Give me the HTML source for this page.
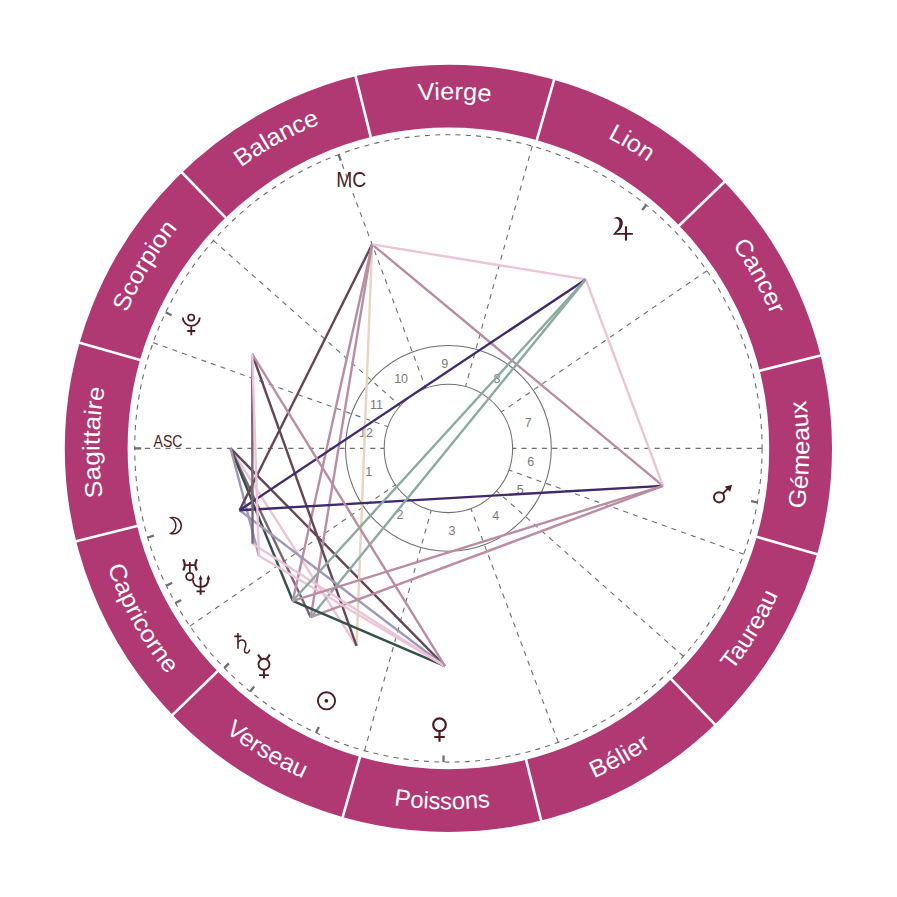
<!DOCTYPE html>
<html><head><meta charset="utf-8"><style>html,body{margin:0;padding:0;background:#fff;}svg{display:block}</style></head>
<body><svg width="897" height="897" viewBox="0 0 897 897">
<rect width="897" height="897" fill="#fff"/>
<circle cx="448.4" cy="448.4" r="352.20" fill="none" stroke="#b03873" stroke-width="62.80"/>
<line x1="525.77" y1="758.70" x2="541.44" y2="821.58" stroke="#fff" stroke-width="2.6"/>
<line x1="670.55" y1="678.44" x2="715.57" y2="725.06" stroke="#fff" stroke-width="2.6"/>
<line x1="755.81" y1="536.55" x2="818.10" y2="554.41" stroke="#fff" stroke-width="2.6"/>
<line x1="758.70" y1="371.03" x2="821.58" y2="355.36" stroke="#fff" stroke-width="2.6"/>
<line x1="678.44" y1="226.25" x2="725.06" y2="181.23" stroke="#fff" stroke-width="2.6"/>
<line x1="536.55" y1="140.99" x2="554.41" y2="78.70" stroke="#fff" stroke-width="2.6"/>
<line x1="371.03" y1="138.10" x2="355.36" y2="75.22" stroke="#fff" stroke-width="2.6"/>
<line x1="226.25" y1="218.36" x2="181.23" y2="171.74" stroke="#fff" stroke-width="2.6"/>
<line x1="140.99" y1="360.25" x2="78.70" y2="342.39" stroke="#fff" stroke-width="2.6"/>
<line x1="138.10" y1="525.77" x2="75.22" y2="541.44" stroke="#fff" stroke-width="2.6"/>
<line x1="218.36" y1="670.55" x2="171.74" y2="715.57" stroke="#fff" stroke-width="2.6"/>
<line x1="360.25" y1="755.81" x2="342.39" y2="818.10" stroke="#fff" stroke-width="2.6"/>
<defs><path id="arc0" d="M379.56,802.57 A360.8,360.8 0 0 0 785.24,577.70"/><path id="arc1" d="M565.86,789.54 A360.8,360.8 0 0 0 804.76,391.96"/><path id="arc2" d="M720.70,685.11 A360.8,360.8 0 0 0 728.79,221.34"/><path id="arc3" d="M573.47,122.58 A349.0,349.0 0 0 1 790.99,514.99"/><path id="arc4" d="M393.80,103.70 A349.0,349.0 0 0 1 778.39,334.78"/><path id="arc5" d="M228.77,177.18 A349.0,349.0 0 0 1 677.36,185.01"/><path id="arc6" d="M122.58,323.33 A349.0,349.0 0 0 1 514.99,105.81"/><path id="arc7" d="M103.70,503.00 A349.0,349.0 0 0 1 334.78,118.41"/><path id="arc8" d="M177.18,668.03 A349.0,349.0 0 0 1 185.01,219.44"/><path id="arc9" d="M94.23,379.56 A360.8,360.8 0 0 0 319.10,785.24"/><path id="arc10" d="M107.26,565.86 A360.8,360.8 0 0 0 504.84,804.76"/><path id="arc11" d="M211.69,720.70 A360.8,360.8 0 0 0 675.46,728.79"/></defs>
<text font-family="Liberation Sans, sans-serif" font-size="24" fill="#fff"><textPath href="#arc0" startOffset="50%" text-anchor="middle" textLength="65.5" lengthAdjust="spacingAndGlyphs">Bélier</textPath></text>
<text font-family="Liberation Sans, sans-serif" font-size="24" fill="#fff"><textPath href="#arc1" startOffset="50%" text-anchor="middle" textLength="89.5" lengthAdjust="spacingAndGlyphs">Taureau</textPath></text>
<text font-family="Liberation Sans, sans-serif" font-size="24" fill="#fff"><textPath href="#arc2" startOffset="50%" text-anchor="middle" textLength="109.4" lengthAdjust="spacingAndGlyphs">Gémeaux</textPath></text>
<text font-family="Liberation Sans, sans-serif" font-size="24" fill="#fff"><textPath href="#arc3" startOffset="50%" text-anchor="middle" textLength="79.9" lengthAdjust="spacingAndGlyphs">Cancer</textPath></text>
<text font-family="Liberation Sans, sans-serif" font-size="24" fill="#fff"><textPath href="#arc4" startOffset="50%" text-anchor="middle" textLength="47.2" lengthAdjust="spacingAndGlyphs">Lion</textPath></text>
<text font-family="Liberation Sans, sans-serif" font-size="24" fill="#fff"><textPath href="#arc5" startOffset="50%" text-anchor="middle" textLength="72.6" lengthAdjust="spacingAndGlyphs">Vierge</textPath></text>
<text font-family="Liberation Sans, sans-serif" font-size="24" fill="#fff"><textPath href="#arc6" startOffset="50%" text-anchor="middle" textLength="90.5" lengthAdjust="spacingAndGlyphs">Balance</textPath></text>
<text font-family="Liberation Sans, sans-serif" font-size="24" fill="#fff"><textPath href="#arc7" startOffset="50%" text-anchor="middle" textLength="99.1" lengthAdjust="spacingAndGlyphs">Scorpion</textPath></text>
<text font-family="Liberation Sans, sans-serif" font-size="24" fill="#fff"><textPath href="#arc8" startOffset="50%" text-anchor="middle" textLength="109.9" lengthAdjust="spacingAndGlyphs">Sagittaire</textPath></text>
<text font-family="Liberation Sans, sans-serif" font-size="24" fill="#fff"><textPath href="#arc9" startOffset="50%" text-anchor="middle" textLength="123.5" lengthAdjust="spacingAndGlyphs">Capricorne</textPath></text>
<text font-family="Liberation Sans, sans-serif" font-size="24" fill="#fff"><textPath href="#arc10" startOffset="50%" text-anchor="middle" textLength="91.2" lengthAdjust="spacingAndGlyphs">Verseau</textPath></text>
<text font-family="Liberation Sans, sans-serif" font-size="24" fill="#fff"><textPath href="#arc11" startOffset="50%" text-anchor="middle" textLength="96.8" lengthAdjust="spacingAndGlyphs">Poissons</textPath></text>
<circle cx="448.4" cy="448.4" r="313.7" fill="none" stroke="#6e6e6e" stroke-width="1.1" stroke-dasharray="5.12 5.12"/>
<circle cx="448.4" cy="448.4" r="64.2" fill="none" stroke="#707070" stroke-width="1.05"/>
<circle cx="448.4" cy="448.4" r="102.9" fill="none" stroke="#707070" stroke-width="1.05"/>
<line x1="134.70" y1="448.40" x2="384.20" y2="448.40" stroke="#6e6e6e" stroke-width="1.1" stroke-dasharray="5.12 5.12"/>
<line x1="189.87" y1="626.08" x2="395.49" y2="484.76" stroke="#6e6e6e" stroke-width="1.1" stroke-dasharray="5.12 5.12"/>
<line x1="364.57" y1="750.69" x2="431.24" y2="510.27" stroke="#6e6e6e" stroke-width="1.1" stroke-dasharray="5.12 5.12"/>
<line x1="558.26" y1="742.23" x2="470.88" y2="508.53" stroke="#6e6e6e" stroke-width="1.1" stroke-dasharray="5.12 5.12"/>
<line x1="683.35" y1="656.26" x2="496.48" y2="490.94" stroke="#6e6e6e" stroke-width="1.1" stroke-dasharray="5.12 5.12"/>
<line x1="743.74" y1="554.15" x2="508.84" y2="470.04" stroke="#6e6e6e" stroke-width="1.1" stroke-dasharray="5.12 5.12"/>
<line x1="762.10" y1="448.40" x2="512.60" y2="448.40" stroke="#6e6e6e" stroke-width="1.1" stroke-dasharray="5.12 5.12"/>
<line x1="706.93" y1="270.72" x2="501.31" y2="412.04" stroke="#6e6e6e" stroke-width="1.1" stroke-dasharray="5.12 5.12"/>
<line x1="532.23" y1="146.11" x2="465.56" y2="386.53" stroke="#6e6e6e" stroke-width="1.1" stroke-dasharray="5.12 5.12"/>
<line x1="338.54" y1="154.57" x2="425.92" y2="388.27" stroke="#6e6e6e" stroke-width="1.1" stroke-dasharray="5.12 5.12"/>
<line x1="213.45" y1="240.54" x2="400.32" y2="405.86" stroke="#6e6e6e" stroke-width="1.1" stroke-dasharray="5.12 5.12"/>
<line x1="153.06" y1="342.65" x2="387.96" y2="426.76" stroke="#6e6e6e" stroke-width="1.1" stroke-dasharray="5.12 5.12"/>
<text x="368.66" y="472.16" font-family="Liberation Sans, sans-serif" font-size="12.5" fill="#7a7a7a" text-anchor="middle" dominant-baseline="central">1</text>
<text x="399.91" y="515.38" font-family="Liberation Sans, sans-serif" font-size="12.5" fill="#7a7a7a" text-anchor="middle" dominant-baseline="central">2</text>
<text x="452.04" y="530.82" font-family="Liberation Sans, sans-serif" font-size="12.5" fill="#7a7a7a" text-anchor="middle" dominant-baseline="central">3</text>
<text x="495.69" y="516.21" font-family="Liberation Sans, sans-serif" font-size="12.5" fill="#7a7a7a" text-anchor="middle" dominant-baseline="central">4</text>
<text x="520.27" y="489.90" font-family="Liberation Sans, sans-serif" font-size="12.5" fill="#7a7a7a" text-anchor="middle" dominant-baseline="central">5</text>
<text x="530.67" y="461.68" font-family="Liberation Sans, sans-serif" font-size="12.5" fill="#7a7a7a" text-anchor="middle" dominant-baseline="central">6</text>
<text x="528.14" y="422.64" font-family="Liberation Sans, sans-serif" font-size="12.5" fill="#7a7a7a" text-anchor="middle" dominant-baseline="central">7</text>
<text x="496.89" y="379.42" font-family="Liberation Sans, sans-serif" font-size="12.5" fill="#7a7a7a" text-anchor="middle" dominant-baseline="central">8</text>
<text x="444.76" y="363.98" font-family="Liberation Sans, sans-serif" font-size="12.5" fill="#7a7a7a" text-anchor="middle" dominant-baseline="central">9</text>
<text x="401.11" y="378.59" font-family="Liberation Sans, sans-serif" font-size="12.5" fill="#7a7a7a" text-anchor="middle" dominant-baseline="central">10</text>
<text x="376.53" y="404.90" font-family="Liberation Sans, sans-serif" font-size="12.5" fill="#7a7a7a" text-anchor="middle" dominant-baseline="central">11</text>
<text x="366.13" y="433.12" font-family="Liberation Sans, sans-serif" font-size="12.5" fill="#7a7a7a" text-anchor="middle" dominant-baseline="central">12</text>
<line x1="141.20" y1="448.40" x2="134.70" y2="448.40" stroke="#6e6e6e" stroke-width="2.3"/>
<line x1="340.82" y1="160.65" x2="338.54" y2="154.57" stroke="#6e6e6e" stroke-width="2.3"/>
<line x1="153.85" y1="535.65" x2="147.62" y2="537.50" stroke="#6e6e6e" stroke-width="2.3"/>
<line x1="172.17" y1="582.83" x2="166.33" y2="585.67" stroke="#6e6e6e" stroke-width="2.3"/>
<line x1="181.16" y1="599.91" x2="175.50" y2="603.11" stroke="#6e6e6e" stroke-width="2.3"/>
<line x1="228.91" y1="663.34" x2="224.27" y2="667.88" stroke="#6e6e6e" stroke-width="2.3"/>
<line x1="254.24" y1="686.46" x2="250.13" y2="691.50" stroke="#6e6e6e" stroke-width="2.3"/>
<line x1="318.81" y1="726.93" x2="316.07" y2="732.82" stroke="#6e6e6e" stroke-width="2.3"/>
<line x1="443.57" y1="755.56" x2="443.47" y2="762.06" stroke="#6e6e6e" stroke-width="2.3"/>
<line x1="751.03" y1="501.22" x2="757.43" y2="502.33" stroke="#6e6e6e" stroke-width="2.3"/>
<line x1="642.14" y1="210.00" x2="646.24" y2="204.95" stroke="#6e6e6e" stroke-width="2.3"/>
<line x1="171.59" y1="315.18" x2="165.73" y2="312.36" stroke="#6e6e6e" stroke-width="2.3"/>
<line x1="230.60" y1="448.40" x2="356.53" y2="645.87" stroke="#ebc4d6" stroke-width="2.4"/>
<line x1="230.60" y1="448.40" x2="310.74" y2="617.18" stroke="#7a6473" stroke-width="2.4"/>
<line x1="230.60" y1="448.40" x2="444.98" y2="666.17" stroke="#654654" stroke-width="2.4"/>
<line x1="230.60" y1="448.40" x2="292.79" y2="600.79" stroke="#35504a" stroke-width="2.4"/>
<line x1="230.60" y1="448.40" x2="258.93" y2="555.82" stroke="#a098b8" stroke-width="2.4"/>
<line x1="372.12" y1="244.39" x2="356.53" y2="645.87" stroke="#e9d5bf" stroke-width="2.4"/>
<line x1="372.12" y1="244.39" x2="239.57" y2="510.26" stroke="#654654" stroke-width="2.4"/>
<line x1="372.12" y1="244.39" x2="310.74" y2="617.18" stroke="#b98da2" stroke-width="2.4"/>
<line x1="372.12" y1="244.39" x2="662.96" y2="485.85" stroke="#b98da2" stroke-width="2.4"/>
<line x1="372.12" y1="244.39" x2="585.76" y2="279.38" stroke="#ebc4d6" stroke-width="2.4"/>
<line x1="372.12" y1="244.39" x2="292.79" y2="600.79" stroke="#b98da2" stroke-width="2.4"/>
<line x1="356.53" y1="645.87" x2="252.15" y2="353.95" stroke="#654654" stroke-width="2.4"/>
<line x1="239.57" y1="510.26" x2="444.98" y2="666.17" stroke="#a098b8" stroke-width="2.4"/>
<line x1="239.57" y1="510.26" x2="662.96" y2="485.85" stroke="#3f2a6b" stroke-width="2.4"/>
<line x1="239.57" y1="510.26" x2="585.76" y2="279.38" stroke="#3f2a6b" stroke-width="2.4"/>
<line x1="310.74" y1="617.18" x2="662.96" y2="485.85" stroke="#b98da2" stroke-width="2.4"/>
<line x1="310.74" y1="617.18" x2="585.76" y2="279.38" stroke="#8daaa2" stroke-width="2.4"/>
<line x1="444.98" y1="666.17" x2="292.79" y2="600.79" stroke="#35504a" stroke-width="2.4"/>
<line x1="444.98" y1="666.17" x2="252.56" y2="543.71" stroke="#ebc4d6" stroke-width="2.4"/>
<line x1="444.98" y1="666.17" x2="258.93" y2="555.82" stroke="#ebc4d6" stroke-width="2.4"/>
<line x1="444.98" y1="666.17" x2="252.15" y2="353.95" stroke="#b98da2" stroke-width="2.4"/>
<line x1="662.96" y1="485.85" x2="585.76" y2="279.38" stroke="#ebc4d6" stroke-width="2.4"/>
<line x1="662.96" y1="485.85" x2="292.79" y2="600.79" stroke="#b98da2" stroke-width="2.4"/>
<line x1="585.76" y1="279.38" x2="292.79" y2="600.79" stroke="#8daaa2" stroke-width="2.4"/>
<line x1="252.56" y1="543.71" x2="252.15" y2="353.95" stroke="#7a6473" stroke-width="2.4"/>
<line x1="258.93" y1="555.82" x2="252.15" y2="353.95" stroke="#ebc4d6" stroke-width="2.4"/>
<text x="168" y="447" font-family="Liberation Sans, sans-serif" font-size="17" fill="#4b1d22" text-anchor="middle" textLength="29" lengthAdjust="spacingAndGlyphs">ASC</text>
<text x="351.2" y="186.6" font-family="Liberation Sans, sans-serif" font-size="22" fill="#4b1d22" text-anchor="middle" textLength="30" lengthAdjust="spacingAndGlyphs">MC</text>
<circle cx="326.5" cy="700.8" r="8.6" fill="none" stroke="#4b1d22" stroke-width="1.9"/>
<circle cx="326.4" cy="700.8" r="1.9" fill="#4b1d22"/>
<g transform="translate(175.6,525.6)"><path d="M-4.75,-7.9 A8.21,8.21 0 1 1 -4.75,7.9 A8.74,8.74 0 0 0 -4.75,-7.9 Z" fill="none" stroke="#4b1d22" stroke-width="1.45" stroke-linejoin="miter" stroke-miterlimit="5"/></g>
<g transform="translate(263.95,664.2)"><circle r="5.5" fill="none" stroke="#4b1d22" stroke-width="1.9"/><path d="M-2.4,-5.2 Q-4.4,-6.6 -5.8,-9.7 M2.4,-5.2 Q4.4,-6.6 5.8,-9.7" fill="none" stroke="#4b1d22" stroke-width="2.1"/><path d="M0,5.5 V14.4 M-4.9,10.9 H4.9" fill="none" stroke="#4b1d22" stroke-width="1.9"/></g>
<g transform="translate(439.5,724.7)"><circle r="6.3" fill="none" stroke="#4b1d22" stroke-width="2.2"/><path d="M0,6.3 V17 M-5.3,12.3 H5.3" fill="none" stroke="#4b1d22" stroke-width="2.2"/></g>
<g transform="translate(719.1,497.3)"><circle r="5.1" fill="none" stroke="#4b1d22" stroke-width="2"/><path d="M3.7,-3.7 L10,-10" fill="none" stroke="#4b1d22" stroke-width="1.9"/><path d="M13.0,-12.6 L5.6,-10.5 L11.0,-5.5 Z" fill="#4b1d22"/></g>
<path d="M613.3,218.7 C615.5,216.5 619.6,216.1 621.7,219.2 C623.7,222.3 622.7,227.3 619.7,230.3 L616.2,232.9 L632.9,232.9 L632.9,234.7 L612.7,234.7 L617.3,229.4 C619.5,226.6 620.1,222.6 618.8,220.4 C617.7,218.6 615.6,218.2 613.3,218.7 Z" fill="#4b1d22"/>
<path d="M626,226.3 L626,240.6" fill="none" stroke="#4b1d22" stroke-width="2.1" stroke-linecap="butt"/>
<path d="M238,633 V648.7 M234.3,636.4 H241.4" fill="none" stroke="#4b1d22" stroke-width="1.6" stroke-linecap="butt"/>
<path d="M238,642.4 C239,640.7 240.4,640 241.6,640 C244,640 245.8,641.8 245.8,644.6 C245.8,647 244.4,648.8 244.4,650.6 C244.4,652.2 245.4,653 246.6,653 C248,653 249.2,651.6 249.8,649.6" fill="none" stroke="#4b1d22" stroke-width="1.45" stroke-linecap="butt"/>
<path d="M183.2,559.3 C185.2,563 185.2,567 183.2,570.6 M196.9,559.3 C194.9,563 194.9,567 196.9,570.6" fill="none" stroke="#4b1d22" stroke-width="2.1" stroke-linecap="butt"/>
<path d="M184.4,565.2 H195.8 M189.8,562 V573" fill="none" stroke="#4b1d22" stroke-width="1.8" stroke-linecap="butt"/>
<circle cx="189.8" cy="576.6" r="3.7" fill="none" stroke="#4b1d22" stroke-width="1.8"/>
<path d="M200.6,578 V594.8 M192.9,579.8 C193.2,584.6 196.2,587 200.6,587 C205.2,587 208.4,584.4 208.4,578.5 M196.5,591.4 H204.9" fill="none" stroke="#4b1d22" stroke-width="1.8" stroke-linecap="butt"/>
<path d="M200.6,575 L198.6,579.4 L202.6,579.4 Z M208.4,575 L206.4,579.4 L210.4,579.4 Z" fill="#4b1d22"/>
<circle cx="191.2" cy="317.6" r="3.1" fill="none" stroke="#4b1d22" stroke-width="1.7"/>
<path d="M182.8,317.4 A8.5,8.5 0 0 0 199.8,317.4 M191.3,325.9 V335.3 M187.3,331 H195.2" fill="none" stroke="#4b1d22" stroke-width="1.8" stroke-linecap="butt"/>
</svg></body></html>
